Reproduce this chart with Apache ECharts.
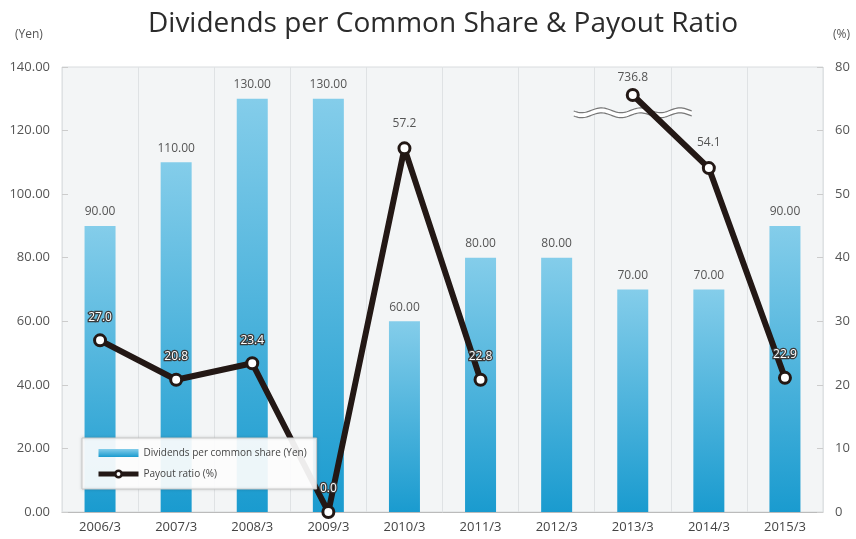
<!DOCTYPE html>
<html><head><meta charset="utf-8">
<script src="https://cdn.jsdelivr.net/npm/echarts@6/dist/echarts.min.js"></script>
<style>html,body{margin:0;padding:0;background:#fff}#c{width:856px;height:539px}</style>
</head><body><div id="c"></div>
<script>
const categories = ['2006/3','2007/3','2008/3','2009/3','2010/3','2011/3','2012/3','2013/3','2014/3','2015/3'];
const dividends = [90, 110, 130, 130, 60, 80, 80, 70, 70, 90];
// plotted positions of the payout ratio markers (right axis, broken above 60)
const payoutPlotted = [27.0, 20.8, 23.4, 0.0, 57.2, 20.8, null, 65.6, 54.1, 21.1];
const payoutLabels = ['27.0','20.8','23.4','0.0','57.2','22.8','','736.8','54.1','22.9'];
const rightTickLabels = {0:'0',10:'10',20:'20',30:'30',40:'40',50:'50',60:'60',70:'80'};
const plainLabelIdx = [4, 7, 8];

const FONT = 'Open Sans';
const chart = echarts.init(document.getElementById('c'), null, {renderer:'canvas'});

const lineData = payoutPlotted.map((v, i) => {
  const plain = plainLabelIdx.includes(i);
  return {
    value: v,
    label: plain ? {color:'#555', textBorderWidth:0, distance: i===7 ? 4 : (i===8 ? 13 : 12)} : {}
  };
});

chart.setOption({
  animation:false,
  textStyle:{fontFamily:FONT},
  title:[
    {text:'Dividends per Common Share & Payout Ratio', left:143, top:5,
     textStyle:{fontFamily:FONT, fontSize:28, fontWeight:'normal', color:'#2b2b2b'}},
    {text:'(Yen)', left:10, top:24, textStyle:{fontFamily:FONT, fontSize:12, fontWeight:'normal', color:'#555'}},
    {text:'(%)', left:828, top:24, textStyle:{fontFamily:FONT, fontSize:12, fontWeight:'normal', color:'#555'}}
  ],
  grid:{left:62, right:33, top:67, bottom:27, show:true, backgroundColor:'#f3f5f6', borderColor:'#d9dcde', borderWidth:1},
  legend:{
    orient:'vertical', left:82, top:438, padding:[10,10,10,14], itemGap:11,
    backgroundColor:'rgba(255,255,255,0.92)', borderColor:'#c8c8c8', borderWidth:1,
    shadowColor:'rgba(0,0,0,0.15)', shadowBlur:3,
    itemWidth:40, itemHeight:8,
    textStyle:{fontFamily:FONT, fontSize:10, color:'#444'},
    data:[
      {name:'Dividends per common share (Yen)', icon:'rect'},
      {name:'Payout ratio (%)', lineStyle:{width:5, color:'#231815'}, itemStyle:{color:'#fff', borderColor:'#231815', borderWidth:2.5}}
    ]
  },
  xAxis:{
    type:'category', data:categories,
    axisLine:{show:true, lineStyle:{color:'#bbb'}},
    axisTick:{show:false},
    axisLabel:{fontFamily:FONT, fontSize:13, color:'#444', margin:9},
    splitLine:{show:true, lineStyle:{color:'#dfe2e4', width:1}}
  },
  yAxis:[
    {type:'value', min:0, max:140, interval:20,
     axisLine:{show:false}, splitLine:{show:false},
     axisTick:{show:true, inside:true, length:6, lineStyle:{color:'#ccc'}},
     axisLabel:{fontFamily:FONT, fontSize:13, color:'#555', margin:12, formatter:v=>v.toFixed(2)}},
    {type:'value', min:0, max:70, interval:10, position:'right',
     axisLine:{show:false}, splitLine:{show:false},
     axisTick:{show:true, inside:true, length:6, lineStyle:{color:'#ccc'}},
     axisLabel:{fontFamily:FONT, fontSize:13, color:'#555', margin:12, formatter:v=>rightTickLabels[v]}}
  ],
  series:[
    {name:'Dividends per common share (Yen)', type:'bar', yAxisIndex:0, barWidth:31, data:dividends,
     itemStyle:{color:new echarts.graphic.LinearGradient(0,0,0,1,[{offset:0,color:'#84cdea'},{offset:1,color:'#1a9bcf'}])},
     label:{show:true, position:'top', distance:8, fontFamily:FONT, fontSize:12, color:'#555', formatter:p=>p.value.toFixed(2)}},
    {name:'Payout ratio (%)', type:'line', yAxisIndex:1, data:lineData, connectNulls:false, z:3,
     symbol:'circle', symbolSize:11, showAllSymbol:true,
     lineStyle:{color:'#231815', width:6},
     itemStyle:{color:'#fff', borderColor:'#231815', borderWidth:3},
     label:{show:true, position:'top', distance:10, fontFamily:FONT, fontSize:12, color:'#fff',
       textBorderColor:'#3a3a3a', textBorderWidth:2.5, formatter:p=>payoutLabels[p.dataIndex]}}
  ]
});

// axis-break symbol near the 2013/3 point
const c = chart.convertToPixel({xAxisIndex:0, yAxisIndex:1}, [categories[7], 62.8]);
const half = 59;
function wave(off){
  const pts=[];
  for(let k=0;k<=80;k++){
    const t=k/80;
    pts.push([c[0]-half+2*half*t, c[1]+off+2.4*Math.sin(t*Math.PI*6+0.3)]);
  }
  return pts;
}
chart.setOption({graphic:[
  {type:'polyline', z:1, shape:{points:wave(0)}, style:{stroke:'#fff', lineWidth:4, fill:null}},
  {type:'polyline', z:1, shape:{points:wave(-2.5)}, style:{stroke:'#777', lineWidth:1.2, fill:null}},
  {type:'polyline', z:1, shape:{points:wave(2.5)}, style:{stroke:'#777', lineWidth:1.2, fill:null}}
]});
</script></body></html>
